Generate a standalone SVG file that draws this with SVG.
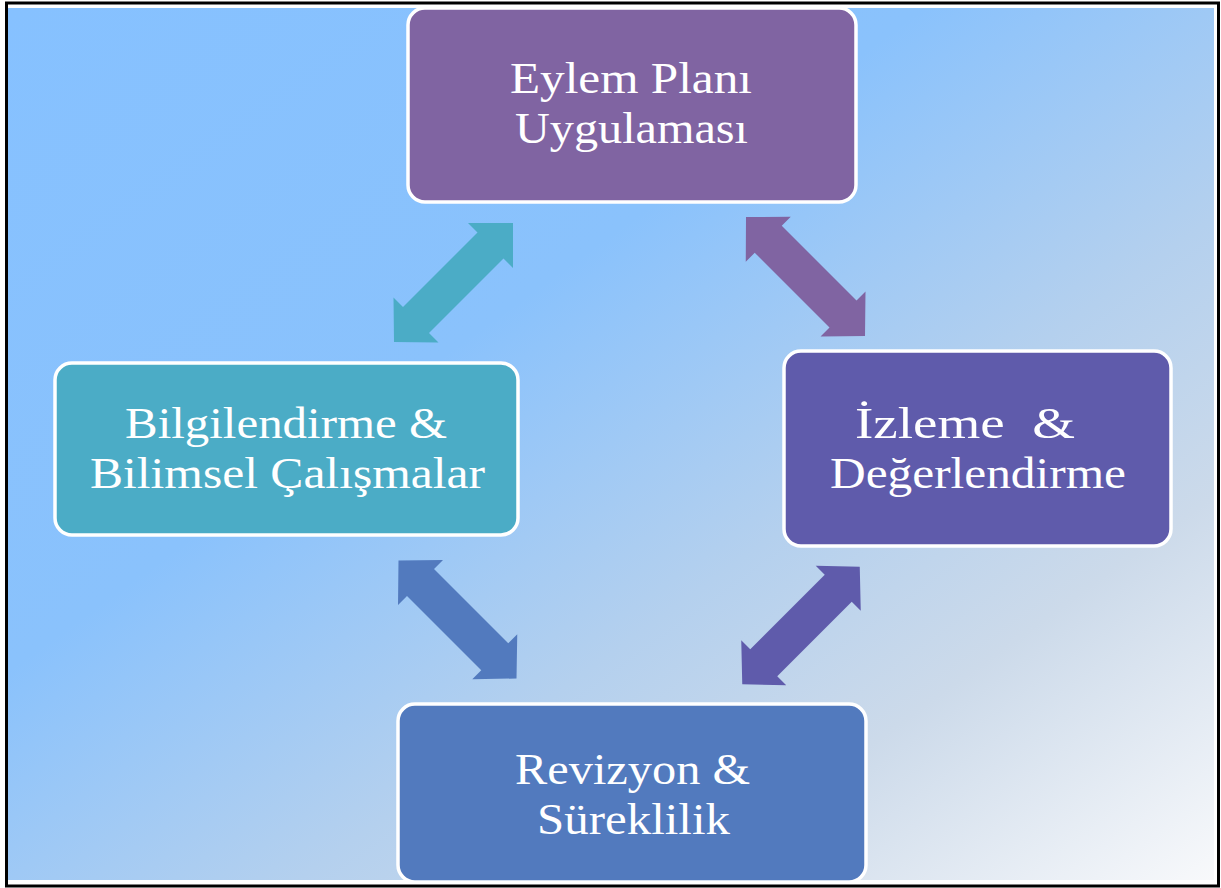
<svg xmlns="http://www.w3.org/2000/svg" width="1221" height="888" viewBox="0 0 1221 888">
<defs>
<linearGradient id="bg" x1="0" y1="0" x2="1" y2="1">
<stop offset="0" stop-color="#86C1FF"/>
<stop offset="0.38" stop-color="#8AC2FC"/>
<stop offset="0.62" stop-color="#B4D0EE"/>
<stop offset="0.78" stop-color="#CCDAEA"/>
<stop offset="1" stop-color="#F8F9FB"/>
</linearGradient>
</defs>
<style>
.box{stroke:#FFFFFF;stroke-width:3.5}
.t{font-family:"Liberation Serif","Times New Roman",serif;font-size:45px;fill:#FFFFFF;text-anchor:middle;white-space:pre}
</style>
<rect x="6.5" y="3" width="1212" height="883" fill="#FFFFFF" stroke="#000000" stroke-width="3"/>
<rect x="8" y="8" width="1206" height="872" fill="url(#bg)"/>
<g id="connectors">
<polygon fill="#4BACC6" points="513,223 513,268 503.5,258.5 429,333 438.5,342.5 394,342 393.5,297.5 403,307 477.5,232.5 468,223"/>
<polygon fill="#8064A2" points="746,217 745.75,261.75 754.75,252.75 829.5,327.5 820.5,336.5 865,336 865.5,291.5 856.5,300.5 781.75,225.75 790.75,216.75"/>
<polygon fill="#527ABE" points="398.5,560.5 398,605 407,596 481.25,670.25 472.25,679.25 516.5,678.5 517.25,634.25 508.25,643.25 434,569 443,560"/>
<polygon fill="#5F5BAB" points="859.75,566.75 860.75,610.75 851.75,601.75 777.25,676.25 786.25,685.25 742.25,684.25 741.25,640.25 750.25,649.25 824.75,574.75 815.75,565.75"/>
</g>
<g id="node-eylem">
<rect class="box" x="408" y="8" width="448" height="194" rx="17" fill="#8064A2"/>
<text class="t" x="631" y="93" textLength="242" lengthAdjust="spacingAndGlyphs">Eylem Planı</text>
<text class="t" x="631.5" y="143" textLength="233" lengthAdjust="spacingAndGlyphs">Uygulaması</text>
</g>
<g id="node-bilgilendirme">
<rect class="box" x="55" y="363" width="463" height="172" rx="17" fill="#4BACC6"/>
<text class="t" x="286" y="438" textLength="322" lengthAdjust="spacingAndGlyphs">Bilgilendirme &amp;</text>
<text class="t" x="287.5" y="488" textLength="395" lengthAdjust="spacingAndGlyphs">Bilimsel Çalışmalar</text>
</g>
<g id="node-izleme">
<rect class="box" x="784" y="351" width="387" height="195" rx="17" fill="#5F5BAB"/>
<text class="t" x="965" y="438" textLength="220" lengthAdjust="spacingAndGlyphs">İzleme  &amp;</text>
<text class="t" x="978" y="488" textLength="296" lengthAdjust="spacingAndGlyphs">Değerlendirme</text>
</g>
<g id="node-revizyon">
<rect class="box" x="398" y="704" width="468" height="178" rx="17" fill="#527ABE"/>
<text class="t" x="632.5" y="784" textLength="235" lengthAdjust="spacingAndGlyphs">Revizyon &amp;</text>
<text class="t" x="633.5" y="834" textLength="193" lengthAdjust="spacingAndGlyphs">Süreklilik</text>
</g>
</svg>
